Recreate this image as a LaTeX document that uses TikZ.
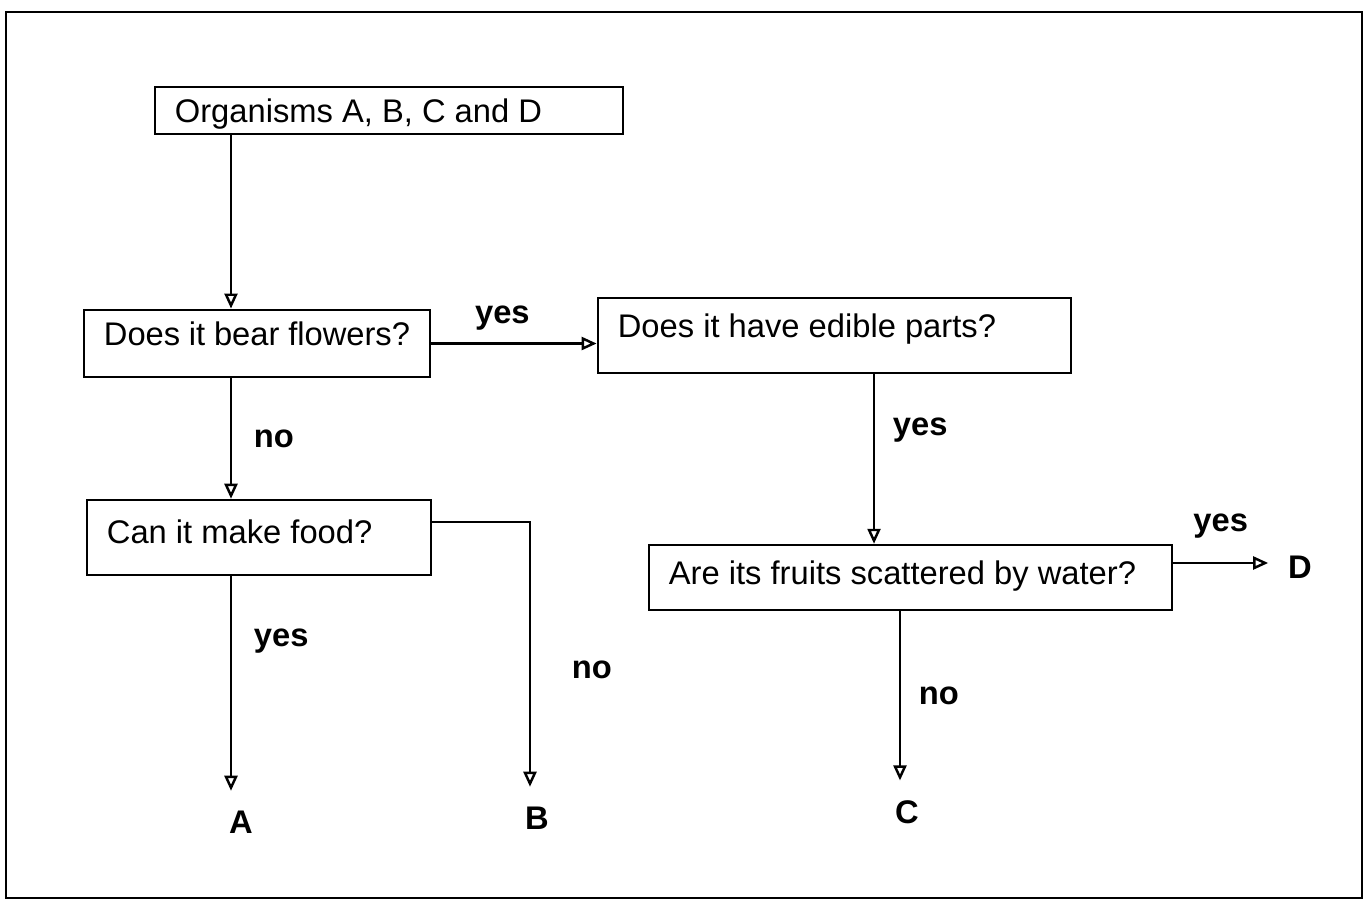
\documentclass[tikz,border=0pt]{standalone}
\usepackage{fontspec}
\setmainfont{Liberation Sans}
\usetikzlibrary{arrows.meta}

\begin{document}
\begin{tikzpicture}[x=0.01cm, y=-0.01cm, line width=0.7pt,
	every node/.style={font=\fontsize{9.3}{11}\selectfont},
	qbox/.style={draw, align=flush left, inner xsep=0.2cm, text height=0.24cm},
	ans/.style={font=\fontsize{9.3}{11}\selectfont\bfseries},
	leaf/.style={ans, inner sep=0.11cm, outer sep=0.09cm},
	arr/.style={-{Triangle[open, length=1.5mm, width=1.3mm]}}]
		\useasboundingbox (0,0) rectangle (1365,908);
		\draw (6,12) rectangle (1362,898);
		
		\node[qbox, text width=4.28cm, minimum height=0.45cm, text depth=0cm] at (389,110.5) (org) {Organisms A, B, C and D};
		\node[qbox, text width=3.06cm, minimum height=0.67cm, text depth=0.2cm] at (257,343.5) (flw) {Does it bear flowers?};
		\node[qbox, text width=4.33cm, minimum height=0.75cm, text depth=0.2cm] at (834.5,335.5) (edible) {Does it have edible parts?};
		\node[qbox, text width=3.04cm, minimum height=0.75cm, text depth=0.12cm] at (259,537.5) (food) {Can it make food?};
		\node[qbox, text width=4.83cm, minimum height=0.65cm, text depth=0.1cm] at (910.5,577.5) (water) {Are its fruits scattered by water?};
		
		\node[leaf] at (241,822) (A) {A};
		\node[leaf] at (537,818) (B) {B};
		\node[leaf] at (907,812) (C) {C};
		\node[leaf] at (1300,567) (D) {D};
		
		\coordinate (spine) at (231,0);
		
		\draw[arr] (org.south -| spine) -- (flw.north -| spine);
		\draw[arr] (flw.east) -- (flw.east -| edible.west) node[ans, pos=0.43, above=0cm] (y1) {yes};
		\draw[arr] (flw.south -| spine) -- (food.north -| spine) node[ans, midway, right=0.1cm] (n1) {no};
		\draw[arr] (food.south -| spine) -- (A.north -| spine) node[ans, pos=0.3, right=0.1cm] (y2) {yes};
		\draw[arr] ([yshift=0.155cm]food.east) -| ([xshift=-0.07cm]B.north) node[ans, pos=0.78, right=0.29cm] (n2) {no};
		\draw[arr] ([xshift=0.395cm]edible.south) -- ([xshift=0.395cm]edible.south |- water.north) node[ans, pos=0.33, right=0.06cm] (y3) {yes};
		\draw[arr] ([yshift=0.145cm]water.east) -- ([yshift=0.145cm]water.east -| D.west) node[ans, pos=0.5, above=0.12cm] (y4) {yes};
		\draw[arr] ([xshift=-0.07cm]C.north |- water.south) -- ([xshift=-0.07cm]C.north) node[ans, pos=0.5, right=0.06cm] (n3) {no};
		\end{tikzpicture}
\end{document}
